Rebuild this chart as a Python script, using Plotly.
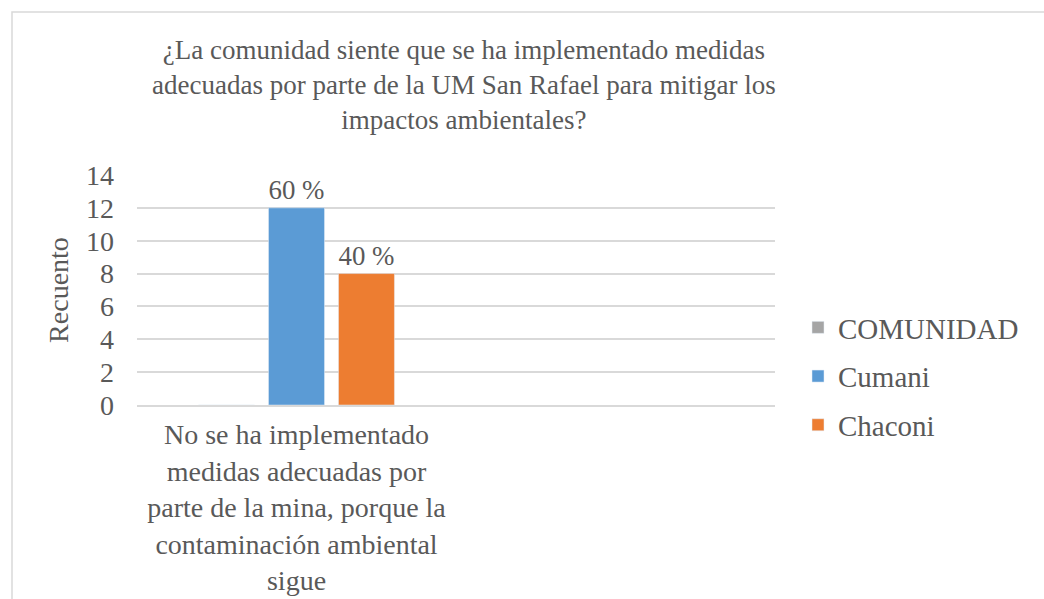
import plotly.graph_objects as go

categories = ["No se ha implementado<br>medidas adecuadas por<br>parte de la mina, porque la<br>contaminación ambiental<br>sigue"]
series_names = ["COMUNIDAD", "Cumani", "Chaconi"]
comunidad = [0]
cumani = [12]
chaconi = [8]
cumani_labels = ["60 %"]
chaconi_labels = ["40 %"]
y_ticks = [0, 2, 4, 6, 8, 10, 12, 14]

title_text = ("¿La comunidad siente que se ha implementado medidas<br>"
              "adecuadas por parte de la UM San Rafael para mitigar los<br>"
              "impactos ambientales?")

FONT = "Liberation Serif"
TXT = "#595959"

fig = go.Figure()
fig.add_trace(go.Bar(name=series_names[0], x=categories, y=comunidad,
                     marker_color="#A5A5A5", legendgroup="a"))
fig.add_trace(go.Bar(name=series_names[1], x=categories, y=cumani,
                     marker_color="#5B9BD5", text=cumani_labels,
                     textposition="outside", legendgroup="b",
                     textfont=dict(size=28, color=TXT, family=FONT), cliponaxis=False))
fig.add_trace(go.Bar(name=series_names[2], x=categories, y=chaconi,
                     marker_color="#ED7D31", text=chaconi_labels,
                     textposition="outside", legendgroup="c",
                     textfont=dict(size=28, color=TXT, family=FONT), cliponaxis=False))

L, R, T, B = 137, 775, 175, 405
W, H = 1044, 599
pw, ph = R - L, B - T

def px_x(x):
    return (x - L) / pw

def px_y(y):
    return (B - y) / ph

fig.update_layout(
    width=W, height=H,
    margin=dict(l=L, r=W - R, t=T, b=H - B, autoexpand=False),
    paper_bgcolor="white", plot_bgcolor="white",
    font=dict(family=FONT, color=TXT, size=28),
    barmode="group", bargap=0.342, bargroupgap=0.2,
    showlegend=True,
    legend=dict(x=px_x(798), y=px_y(302), xanchor="left", yanchor="top",
                font=dict(size=29, color=TXT, family=FONT),
                tracegroupgap=8, itemwidth=30, bgcolor="rgba(0,0,0,0)"),
    xaxis=dict(type="category", range=[-0.5, 1.5], showgrid=False,
               showline=True, linecolor="#D9D9D9", linewidth=1.5,
               ticks="", tickfont=dict(size=28, color=TXT, family=FONT),
               ticklabelstandoff=4, fixedrange=True, automargin=False),
    yaxis=dict(range=[0, 14], tickvals=y_ticks, showgrid=True,
               gridcolor="#D9D9D9", gridwidth=1.5, zeroline=False,
               showline=False, ticks="", ticklabelstandoff=22, automargin=False,
               tickfont=dict(size=28, color=TXT, family=FONT),
               title=dict(text="Recuento", standoff=9,
                          font=dict(size=28, color=TXT, family=FONT))),
    annotations=[dict(text=title_text, xref="paper", yref="paper",
                      x=px_x(464), y=px_y(33), xanchor="center", yanchor="top",
                      showarrow=False, align="center",
                      font=dict(size=27, color=TXT, family=FONT))],
    shapes=[dict(type="rect", xref="paper", yref="paper",
                 x0=px_x(12), x1=px_x(1060), y0=px_y(620), y1=px_y(12),
                 line=dict(color="#D9D9D9", width=1.5), fillcolor="rgba(0,0,0,0)",
                 layer="below")],
)

fig.write_html("out.html", config={"displayModeBar": False},
               post_script="document.body.style.margin='0';document.body.style.overflow='hidden';")
